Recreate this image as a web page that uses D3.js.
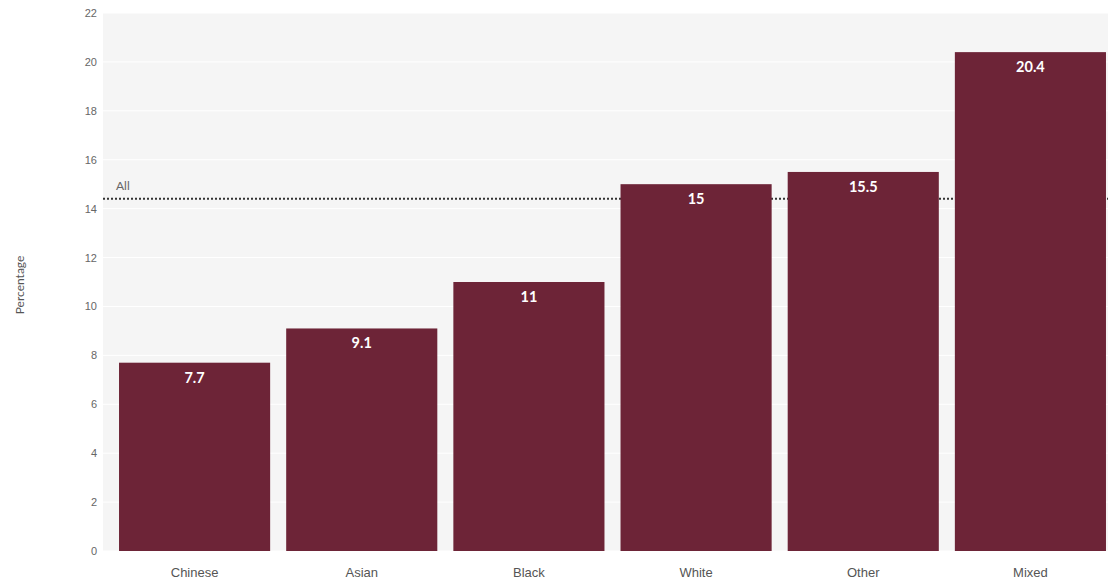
<!DOCTYPE html>
<html>
<head>
<meta charset="utf-8">
<script src="https://cdn.jsdelivr.net/npm/d3@7"></script>
<style>
  body { margin: 0; background: #fff; }
  svg { display: block; font-family: Lato, "Open Sans", sans-serif; }
</style>
</head>
<body>
<svg id="chart" width="1108" height="584"></svg>
<script>
const categories = ['Chinese', 'Asian', 'Black', 'White', 'Other', 'Mixed'];
const values = [7.7, 9.1, 11, 15, 15.5, 20.4];
const allValue = 14.4;
const yTicks = [0, 2, 4, 6, 8, 10, 12, 14, 16, 18, 20, 22];

const width = 1108;
const height = 584;
const plotLeft = 103, plotTop = 13, plotBottom = 551;

const svg = d3.select('#chart');

const y = d3.scaleLinear()
            .domain([0, 22])
            .range([plotBottom, plotTop]);

const x = d3.scaleBand()
            .domain(categories)
            .range([111, 1114])
            .paddingInner(0.096)
            .paddingOuter(0.048);

// plot background
svg.append('rect')
   .attr('x', plotLeft)
   .attr('y', plotTop)
   .attr('width', width - plotLeft)
   .attr('height', plotBottom - plotTop)
   .attr('fill', '#f5f5f5');

// gridlines
svg.append('g')
   .selectAll('line')
   .data(yTicks)
   .enter()
   .append('line')
   .attr('x1', plotLeft)
   .attr('x2', width)
   .attr('y1', d => y(d))
   .attr('y2', d => y(d))
   .attr('stroke', '#fff')
   .attr('stroke-width', 1);

// y axis
const yAxis = d3.axisLeft(y).tickValues(yTicks).tickSize(0).tickPadding(6);
const yg = svg.append('g')
              .attr('transform', 'translate(' + plotLeft + ',0)')
              .call(yAxis);
yg.select('.domain').remove();
yg.selectAll('text')
  .attr('fill', '#666')
  .style('font-size', '11px');

// reference line "All"
svg.append('line')
   .attr('x1', plotLeft)
   .attr('x2', width)
   .attr('y1', y(allValue))
   .attr('y2', y(allValue))
   .attr('stroke', '#333')
   .attr('stroke-width', 2)
   .attr('stroke-dasharray', '2,2');

svg.append('text')
   .attr('x', 116)
   .attr('y', y(allValue) - 9)
   .attr('fill', '#666')
   .style('font-size', '12px')
   .text('All');

// bars
const data = categories.map((c, i) => ({ cat: c, val: values[i] }));

svg.append('g')
   .selectAll('rect')
   .data(data)
   .enter()
   .append('rect')
   .attr('x', d => x(d.cat))
   .attr('y', d => y(d.val))
   .attr('width', x.bandwidth())
   .attr('height', d => plotBottom - y(d.val))
   .attr('fill', '#6d2437');

svg.append('g')
   .selectAll('text')
   .data(data)
   .enter()
   .append('text')
   .attr('x', d => x(d.cat) + x.bandwidth() / 2)
   .attr('y', d => y(d.val) + 20)
   .attr('text-anchor', 'middle')
   .attr('fill', '#fff')
   .style('font-size', '14.5px')
   .style('font-weight', 'bold')
   .text(d => d.val);

// x axis
const xAxis = d3.axisBottom(x).tickSize(0).tickPadding(17);
const xg = svg.append('g')
              .attr('transform', 'translate(0,' + plotBottom + ')')
              .call(xAxis);
xg.select('.domain').remove();
xg.selectAll('text')
  .attr('fill', '#555')
  .style('font-size', '13px');

// y label
svg.append('text')
   .attr('transform', 'translate(24,285) rotate(-90)')
   .attr('text-anchor', 'middle')
   .attr('fill', '#555')
   .style('font-size', '12px')
   .text('Percentage');
</script>
</body>
</html>
